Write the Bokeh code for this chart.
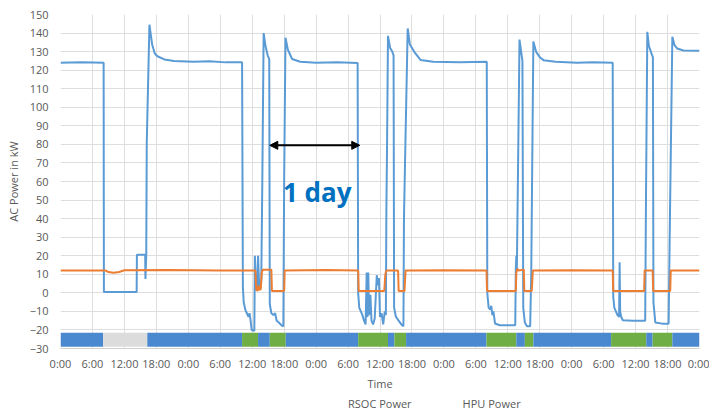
from bokeh.plotting import figure
from bokeh.layouts import column
from bokeh.models import (Range1d, FixedTicker, Legend, LegendItem, Arrow, NormalHead,
                          ColumnDataSource)
from bokeh.core.properties import value
from bokeh.embed import file_html
from bokeh.resources import INLINE

# ---------------- data (hours since start, kW) ----------------
rsoc_hours = [0, 4, 8.1, 8.15, 14.3, 14.35, 15.9, 15.95, 16.1, 16.2, 16.7, 17.2, 17.7, 18.2, 19.5, 21.3, 25, 28, 31, 34.1,
              34.25, 34.4, 34.7, 35.0, 35.3, 35.5, 35.7, 35.9, 36.4, 36.5, 36.7, 36.9, 37.1, 37.3, 37.5, 37.7, 37.9,
              38.15, 38.5, 38.9, 39.2, 39.3, 39.6, 40.0, 40.3, 40.6, 41.0, 41.5, 41.85, 42.0, 42.25, 42.7, 43.5, 45, 48,
              52, 55.8,
              55.9, 56.1, 56.4, 56.7, 57.0, 57.3, 57.5, 57.65, 57.8, 57.95, 58.2, 58.4, 58.7, 59.0, 59.4, 59.6, 59.8,
              60.0, 60.3, 60.6, 60.9, 61.1, 61.2, 61.3, 61.5, 61.9, 62.3, 62.55, 62.65, 63.0, 63.5, 64.0, 64.4, 64.5,
              64.7, 65.2, 65.6, 66.4, 67.6, 70, 75, 80.05,
              80.15, 80.4, 80.7, 80.9, 81.1, 81.3, 81.6, 82.5, 84, 85.4, 85.5, 85.6, 85.7, 86.2, 86.6, 86.75, 86.9,
              87.2, 87.6, 88.2, 88.4, 88.8, 89.3, 90.0, 90.7, 93, 97, 100, 103.7,
              103.8, 104.0, 104.3, 104.6, 104.9, 105.0, 105.1, 105.3, 105.6, 107.5, 109.8, 109.95, 110.2, 110.5,
              111.1, 111.25, 111.35, 111.7, 113, 114.2, 114.4, 114.9, 115.3, 115.8, 117, 120]
rsoc_kw = [124, 124.3, 124, 0.5, 0.5, 20.5, 20.5, 7.5, 20, 81, 144.5, 134, 129, 127.5, 125.8, 125, 124.5, 124.8, 124.2, 124.3,
           3, -5, -9, -11, -13, -11, -15, -20, -20.5, 20, 2, 1.5, 20, 4, 2, 6, 60,
           140, 133, 128, 126, -6, -11, -12, -11, -15, -16, -17.5, -18, 60, 137.5, 131, 126, 124.5, 124,
           124.3, 123.8,
           0, -8, -10, -12, -15, -17, 11, -13, 11, -12, -1, -15, -17, -14, 9.5, 4, 8,
           -13, -11, -17, -10, -12, 45, 72, 138.5, 132, 130, 128, -8, -13, -15, -17, -18, 40,
           70, 142.5, 134, 130, 125.5, 124.5, 124.2, 124.5,
           0, -8, -9, -7, -12, -10, -16.5, -17.5, -17.5, -17.5, 12, 20, 12, 136.5, 128, 125, -8,
           -16, -18, -18, 10, 135.5, 130, 127, 125.4, 124.5, 124, 124.3, 124,
           -2, -8, -10, -12, -13, 16.5, -10, -13, -14.8, -15, -15, 50, 140.7, 133,
           128, 127, -5, -16, -16.6, -16.6, 30, 138, 133.5, 131.7, 130.6, 130.5]

hpu_hours = [0, 8.5, 9.0, 10.0, 11.0, 12.0, 20, 30, 36.6, 36.75, 37.0, 37.2, 37.35, 37.6, 37.8, 38.0, 39.6, 39.7, 42.0, 42.1,
             50, 55.9, 56.0, 60.8, 61.0, 61.2, 63.4, 63.5, 64.6, 64.8, 72, 80.0, 80.1, 85.5, 85.6, 85.8, 86.0, 87.0, 87.1,
             88.5, 88.7, 96, 103.7, 103.8, 109.6, 109.7, 111.2, 111.3, 114.5, 114.6, 120]
hpu_kw = [12, 12, 11.2, 10.8, 11.2, 12.2, 12.3, 12, 12, 2, 1, 4, 1.5, 2, 11, 12.5, 12.5, 1, 1, 12,
          12.3, 12, 1, 1, 10, 12, 12, 1, 1, 12, 12.2, 12, 1, 1, 11, 13, 12, 12.5, 1,
          1, 12, 12.2, 12, 1, 1, 12, 12, 1, 1, 12, 12]

mode_start = [0, 8, 16.3, 34.1, 37.1, 39.3, 42.3, 55.9, 61.5, 62.7, 64.9, 80.0, 85.6, 87.2, 88.8, 103.4, 110.0, 111.2, 114.9]
mode_end = mode_start[1:] + [120]
mode_state = ["SOEC", "idle", "SOEC", "SOFC", "SOEC", "SOFC", "SOEC", "SOFC", "SOEC", "SOFC", "SOEC",
              "SOFC", "SOEC", "SOFC", "SOEC", "SOFC", "SOEC", "SOFC", "SOEC"]

tick_hours = list(range(0, 121, 6))
tick_labels = ["0:00", "6:00", "12:00", "18:00"] * 5 + ["0:00"]
y_ticks = list(range(-30, 151, 10))
series_names = ["RSOC Power", "HPU Power"]

arrow_start_hour = 39.3
arrow_end_hour = 56.2
arrow_level = 79.5
note_text = "1 day"
note_hour = 48.2
note_level = 54.5

# ---------------- styling ----------------
state_colors = {"SOEC": "#4A89D0", "SOFC": "#6FAE45", "idle": "#DCDCDC"}
RSOC_COLOR = "#5B9BD5"
HPU_COLOR = "#ED7D31"
FONT = "Open Sans"
GRAY_TXT = "#595959"

p = figure(frame_width=639, frame_height=334, output_backend="svg", toolbar_location=None,
           x_range=Range1d(0, 120), y_range=Range1d(-30, 150),
           min_border_left=60, min_border_right=10, min_border_top=14, min_border_bottom=0)
p.outline_line_color = None
p.background_fill_color = "white"

p.xaxis.ticker = FixedTicker(ticks=tick_hours)
p.xaxis.major_label_overrides = {h: lab for h, lab in zip(tick_hours, tick_labels)}
p.yaxis.ticker = FixedTicker(ticks=y_ticks)
p.xgrid.ticker = FixedTicker(ticks=tick_hours)
p.ygrid.ticker = FixedTicker(ticks=y_ticks)
for g in (p.xgrid, p.ygrid):
    g.grid_line_color = "#DEDEDE"
    g.grid_line_width = 1

for ax in (p.xaxis, p.yaxis):
    ax.major_tick_out = 0
    ax.major_tick_in = 0
    ax.minor_tick_out = 0
    ax.minor_tick_in = 0
    ax.major_label_text_font = FONT
    ax.major_label_text_font_size = "11px"
    ax.major_label_text_color = GRAY_TXT
    ax.axis_label_text_font = FONT
    ax.axis_label_text_font_size = "11px"
    ax.axis_label_text_color = GRAY_TXT
    ax.axis_label_text_font_style = "normal"
p.xaxis.axis_line_color = "#D0D0D0"
p.yaxis.axis_line_color = None
p.xaxis.axis_label = "Time"
p.yaxis.axis_label = "AC Power in kW"
p.xaxis.major_label_standoff = 7
p.xaxis.axis_label_standoff = 2
p.yaxis.major_label_standoff = 12
p.yaxis.axis_label_standoff = 6

# status bar
bar_src = ColumnDataSource(dict(left=mode_start, right=mode_end,
                                color=[state_colors[s] for s in mode_state]))
p.quad(left="left", right="right", bottom=-29, top=-21.5, color="color", line_color=None, source=bar_src)

p.line(rsoc_hours, rsoc_kw, line_color=RSOC_COLOR, line_width=2)
p.line(hpu_hours, hpu_kw, line_color=HPU_COLOR, line_width=2)

p.add_layout(Arrow(x_start=arrow_start_hour, y_start=arrow_level, x_end=arrow_end_hour, y_end=arrow_level,
                   line_color="black", line_width=2,
                   start=NormalHead(size=8, fill_color="black", line_color="black"),
                   end=NormalHead(size=8, fill_color="black", line_color="black")))
p.text(x=[note_hour], y=[note_level], text=[note_text], text_font=value(FONT), text_font_style="bold",
       text_font_size="26px", text_color="#0070C0", text_align="center", text_baseline="alphabetic")

# ---------------- legend strip under the chart ----------------
leg = figure(width=709, height=20, output_backend="svg", toolbar_location=None,
             x_range=Range1d(0, 1), y_range=Range1d(0, 1),
             x_axis_type=None, y_axis_type=None, min_border=0)
leg.outline_line_color = None
leg.grid.visible = False
k_rsoc = leg.line(x=[], y=[], line_color=RSOC_COLOR, line_width=2)
k_hpu = leg.line(x=[], y=[], line_color=HPU_COLOR, line_width=2)
legend = Legend(items=[LegendItem(label=series_names[0], renderers=[k_rsoc]),
                       LegendItem(label=series_names[1], renderers=[k_hpu])],
                orientation="horizontal", location=(262, 2),
                label_text_font=FONT, label_text_font_size="11px", label_text_color=GRAY_TXT,
                glyph_width=24, glyph_height=12, label_height=12, label_standoff=2, spacing=25,
                padding=1, margin=0, border_line_color=None, background_fill_alpha=0)
leg.add_layout(legend)

layout = column(p, leg, spacing=0)
open("out.html", "w").write(file_html(layout, INLINE))
